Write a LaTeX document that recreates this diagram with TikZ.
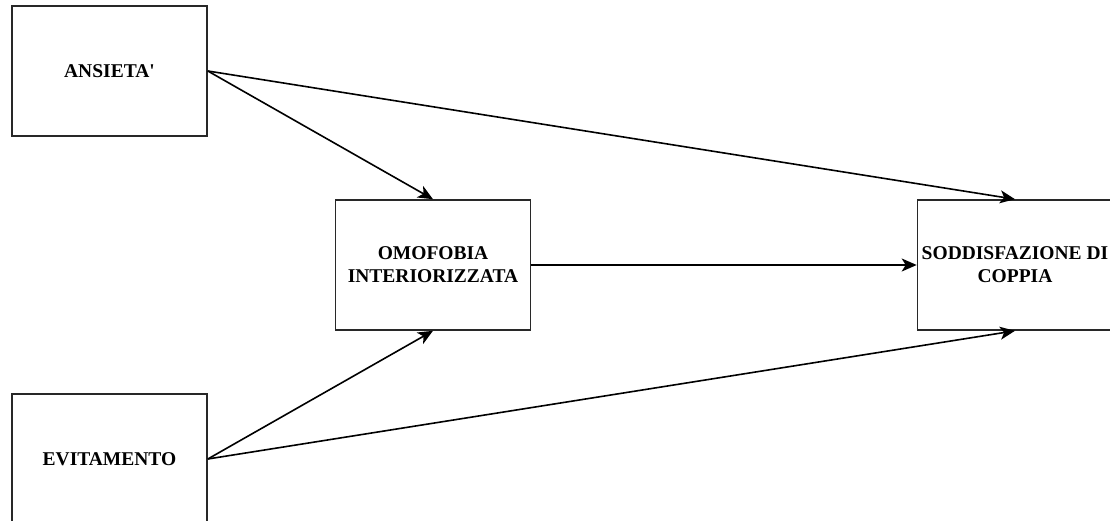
\documentclass[tikz,border=0pt]{standalone}
\usepackage{fontspec}
\setmainfont{Liberation Serif}
\usetikzlibrary{arrows.meta}

\definecolor{bordo}{RGB}{40, 40, 40}

\begin{document}
\begin{tikzpicture}[x=1pt, y=-1pt,
		box/.style={draw=bordo, line width=1.6pt, minimum width=195pt, minimum height=130pt, align=center, inner sep=2pt, font=\fontsize{19.5}{23}\selectfont\bfseries},
		freccia/.style={draw=black, line width=1.6pt, -{Stealth[length=15pt, width=13pt, inset=4pt]}}]
		
		% Riquadro esterno (misure dell'immagine)
		\useasboundingbox (0,0) rectangle (1110,521);
		
		% Variabili indipendenti a sinistra
		\node[box] (ansia) at (109.5, 71) {ANSIETA\textquotesingle};
		\node[box] (evit) at (109.5, 459) {EVITAMENTO};
		
		% Mediatore e variabile dipendente
		\node[box] (omof) at (433, 265) {OMOFOBIA\\INTERIORIZZATA};
		\node[box] (coppia) at (1015, 265) {SODDISFAZIONE DI\\COPPIA};
		
		% Frecce
		\draw[freccia] (ansia.east) -- (omof.north);
		\draw[freccia] (ansia.east) -- (coppia.north);
		\draw[freccia] (evit.east) -- (omof.south);
		\draw[freccia] (evit.east) -- (coppia.south);
		\draw[freccia] (omof.east) -- (coppia.west);
		
	\end{tikzpicture}
\end{document}
